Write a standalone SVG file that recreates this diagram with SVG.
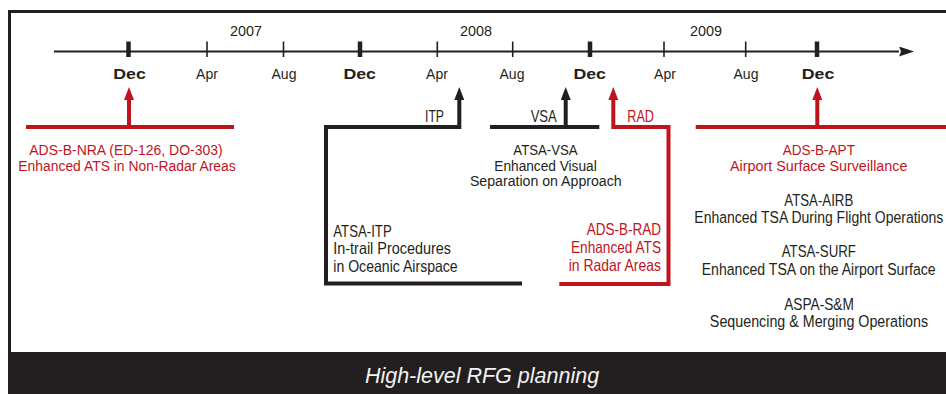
<svg xmlns="http://www.w3.org/2000/svg" width="946" height="394" viewBox="0 0 946 394">
<defs>
<style>
text{font-family:"Liberation Sans",Arial,sans-serif;fill:#231f20}
.yr{font-size:15px;text-anchor:middle}
.mo{font-size:14px;text-anchor:middle}
.dec{font-size:15.5px;font-weight:bold;text-anchor:middle}
.t{font-size:16.5px}
.s{font-size:15.4px}
.c{text-anchor:middle}
.e{text-anchor:end}
.red{fill:#c0141c}
.blk{fill:none;stroke:#231f20;stroke-width:4}
.rd{fill:none;stroke:#c0141c;stroke-width:4}
.tick{stroke:#231f20;stroke-width:1.6}
.major{stroke:#231f20;stroke-width:4.5}
</style>
<marker id="ahB" markerUnits="userSpaceOnUse" markerWidth="13" markerHeight="10" viewBox="0 0 13 10" refX="0" refY="5" orient="auto"><path d="M0,0 L13,5 L0,10 z" fill="#231f20"/></marker>
<marker id="ahR" markerUnits="userSpaceOnUse" markerWidth="13" markerHeight="10" viewBox="0 0 13 10" refX="0" refY="5" orient="auto"><path d="M0,0 L13,5 L0,10 z" fill="#c0141c"/></marker>
<marker id="ahT" markerUnits="userSpaceOnUse" markerWidth="15" markerHeight="10" viewBox="0 0 15 10" refX="0" refY="5" orient="auto"><path d="M0,0 L15,5 L0,10 L2,5 z" fill="#231f20"/></marker>
</defs>
<rect x="0" y="0" width="946" height="394" fill="#ffffff"/>
<g id="frame">
<path d="M9.5,394 V11.5 H946" fill="none" stroke="#231f20" stroke-width="3"/>
<rect x="8" y="352" width="938" height="42" fill="#231f20"/>
<text x="482" y="383" style="font-size:21.5px;font-style:italic;fill:#f2f2f2;text-anchor:middle">High-level RFG planning</text>
</g>
<g id="timeline">
<line x1="54" y1="51.5" x2="899" y2="51.5" stroke="#231f20" stroke-width="2" marker-end="url(#ahT)"/>
<line class="major" x1="128.5" y1="41.5" x2="128.5" y2="57"/>
<line class="tick" x1="207" y1="41.5" x2="207" y2="57"/>
<line class="tick" x1="283.5" y1="41.5" x2="283.5" y2="57"/>
<line class="major" x1="360" y1="41.5" x2="360" y2="57"/>
<line class="tick" x1="437.3" y1="41.5" x2="437.3" y2="57"/>
<line class="tick" x1="512.7" y1="41.5" x2="512.7" y2="57"/>
<line class="major" x1="590" y1="41.5" x2="590" y2="57"/>
<line class="tick" x1="664" y1="41.5" x2="664" y2="57"/>
<line class="tick" x1="745.7" y1="41.5" x2="745.7" y2="57"/>
<line class="major" x1="817" y1="41.5" x2="817" y2="57"/>
<text class="yr" x="246" y="36" textLength="32" lengthAdjust="spacingAndGlyphs">2007</text>
<text class="yr" x="476" y="36" textLength="32" lengthAdjust="spacingAndGlyphs">2008</text>
<text class="yr" x="706" y="36" textLength="32" lengthAdjust="spacingAndGlyphs">2009</text>
<text class="dec" x="129.5" y="79.3" textLength="32.5" lengthAdjust="spacingAndGlyphs">Dec</text>
<text class="mo" x="207" y="79.3">Apr</text>
<text class="mo" x="284" y="79.3">Aug</text>
<text class="dec" x="359.7" y="79.3" textLength="32.5" lengthAdjust="spacingAndGlyphs">Dec</text>
<text class="mo" x="437" y="79.3">Apr</text>
<text class="mo" x="512" y="79.3">Aug</text>
<text class="dec" x="589.7" y="79.3" textLength="32.5" lengthAdjust="spacingAndGlyphs">Dec</text>
<text class="mo" x="665" y="79.3">Apr</text>
<text class="mo" x="746" y="79.3">Aug</text>
<text class="dec" x="818" y="79.3" textLength="32.5" lengthAdjust="spacingAndGlyphs">Dec</text>
</g>
<g id="connectors">
<line class="rd" x1="26" y1="127" x2="234" y2="127"/>
<line class="rd" x1="129" y1="127" x2="129" y2="100" marker-end="url(#ahR)"/>
<polyline class="blk" points="522,283.5 326,283.5 326,127 459.3,127 459.3,100" marker-end="url(#ahB)"/>
<line class="blk" x1="490" y1="127" x2="599.3" y2="127"/>
<line class="blk" x1="565.7" y1="127" x2="565.7" y2="100" marker-end="url(#ahB)"/>
<polyline class="rd" points="559.3,284 668.5,284 668.5,127 613.3,127 613.3,100" marker-end="url(#ahR)"/>
<line class="rd" x1="695.7" y1="127" x2="946" y2="127"/>
<line class="rd" x1="817.3" y1="127" x2="817.3" y2="100" marker-end="url(#ahR)"/>
</g>
<g id="node-nra">
<text class="s c red" x="126" y="155" textLength="193.4" lengthAdjust="spacingAndGlyphs">ADS-B-NRA (ED-126, DO-303)</text>
<text class="s c red" x="127" y="170.7" textLength="217.4" lengthAdjust="spacingAndGlyphs">Enhanced ATS in Non-Radar Areas</text>
</g>
<g id="node-itp">
<text class="t e" x="444" y="121.7" textLength="19" lengthAdjust="spacingAndGlyphs">ITP</text>
<text class="t" x="333.3" y="236.7" textLength="58.4" lengthAdjust="spacingAndGlyphs">ATSA-ITP</text>
<text class="t" x="333.3" y="254" textLength="117.7" lengthAdjust="spacingAndGlyphs">In-trail Procedures</text>
<text class="t" x="333.3" y="271.5" textLength="124.4" lengthAdjust="spacingAndGlyphs">in Oceanic Airspace</text>
</g>
<g id="node-vsa">
<text class="t" x="530.7" y="121.7" textLength="26" lengthAdjust="spacingAndGlyphs">VSA</text>
<text class="s c" x="545.5" y="155" textLength="64.4" lengthAdjust="spacingAndGlyphs">ATSA-VSA</text>
<text class="s c" x="545.5" y="170.7" textLength="102.4" lengthAdjust="spacingAndGlyphs">Enhanced Visual</text>
<text class="s c" x="545.8" y="186.3" textLength="151.7" lengthAdjust="spacingAndGlyphs">Separation on Approach</text>
</g>
<g id="node-rad">
<text class="t red" x="627.3" y="121.7" textLength="26.7" lengthAdjust="spacingAndGlyphs">RAD</text>
<text class="t e red" x="661" y="235" textLength="74.3" lengthAdjust="spacingAndGlyphs">ADS-B-RAD</text>
<text class="t e red" x="661" y="252.7" textLength="90" lengthAdjust="spacingAndGlyphs">Enhanced ATS</text>
<text class="t e red" x="661" y="270.7" textLength="92.3" lengthAdjust="spacingAndGlyphs">in Radar Areas</text>
</g>
<g id="node-apt">
<text class="s c red" x="818.8" y="155" textLength="72.3" lengthAdjust="spacingAndGlyphs">ADS-B-APT</text>
<text class="s c red" x="818.7" y="170.7" textLength="177.3" lengthAdjust="spacingAndGlyphs">Airport Surface Surveillance</text>
</g>
<g id="node-airb">
<text class="t c" x="818.8" y="206" textLength="69" lengthAdjust="spacingAndGlyphs">ATSA-AIRB</text>
<text class="t c" transform="translate(818.8,223.3) scale(0.82,1)" x="0" y="0" textLength="303.7" lengthAdjust="spacingAndGlyphs">Enhanced TSA During Flight Operations</text>
</g>
<g id="node-surf">
<text class="t c" x="818.8" y="257.3" textLength="74.3" lengthAdjust="spacingAndGlyphs">ATSA-SURF</text>
<text class="t c" transform="translate(818.7,275) scale(0.82,1)" x="0" y="0" textLength="285.4" lengthAdjust="spacingAndGlyphs">Enhanced TSA on the Airport Surface</text>
</g>
<g id="node-sm">
<text class="t c" x="819" y="310" textLength="69.7" lengthAdjust="spacingAndGlyphs">ASPA-S&amp;M</text>
<text class="t c" transform="translate(819,326.7) scale(0.82,1)" x="0" y="0" textLength="266.2" lengthAdjust="spacingAndGlyphs">Sequencing &amp; Merging Operations</text>
</g>
</svg>
